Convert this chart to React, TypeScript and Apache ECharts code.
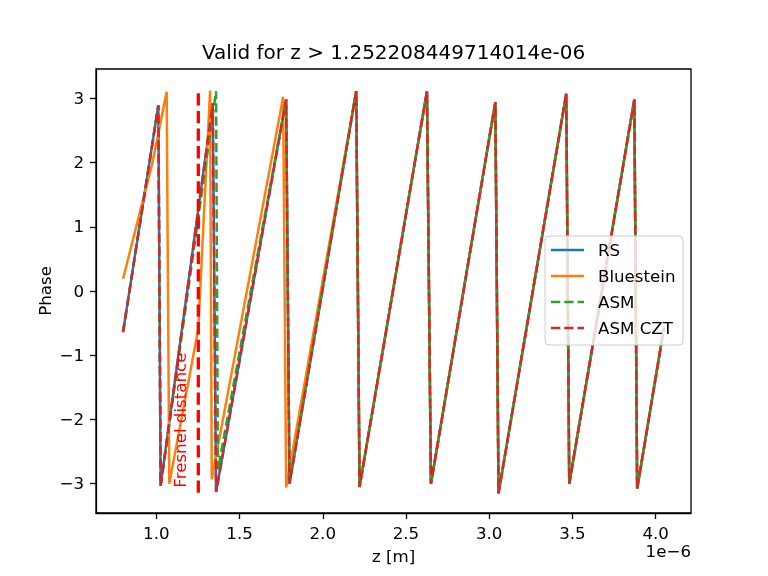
import React, { useEffect, useRef } from "react";
import * as echarts from "echarts";

// z values in units of 1e-6 m, phase in rad
const rsZ = [0.8, 1.012, 1.026, 1.339, 1.359, 1.78, 1.8, 2.201, 2.221, 2.626, 2.65, 3.037, 3.056, 3.463, 3.481, 3.872, 3.889, 4.05];
const rsPhase = [-0.64, 2.89, -3.03, 2.92, -3.13, 2.98, -3.0, 3.11, -3.05, 3.11, -3.0, 2.94, -3.15, 3.07, -3.0, 2.98, -3.08, -0.57];

const blueZ = [0.8, 0.976, 1.062, 1.078, 1.252, 1.323, 1.333, 1.762, 1.78, 2.201, 2.221, 2.626, 2.65, 3.037, 3.056, 3.463, 3.481, 3.872, 3.889, 4.05];
const bluePhase = [0.19, 1.99, 3.1, -3.0, -0.59, 3.12, -2.93, 3.02, -3.06, 3.11, -3.05, 3.11, -3.0, 2.94, -3.15, 3.07, -3.0, 2.98, -3.08, -0.57];

const asmZ = [0.8, 1.012, 1.026, 1.359, 1.37, 1.78, 1.8, 2.201, 2.221, 2.626, 2.65, 3.037, 3.056, 3.463, 3.481, 3.872, 3.889, 4.05];
const asmPhase = [-0.64, 2.89, -3.03, 3.11, -2.78, 2.98, -3.0, 3.11, -3.05, 3.11, -3.0, 2.94, -3.15, 3.07, -3.0, 2.98, -3.08, -0.57];

const cztZ = rsZ;
const cztPhase = rsPhase;

const fresnelZ = 1.252208449714014;
const fresnelPhase = [-Math.PI, Math.PI];
const fresnelLabelPos = [1.145, -2.01];

const xTicks = [1.0, 1.5, 2.0, 2.5, 3.0, 3.5, 4.0];
const yTicks = [-3, -2, -1, 0, 1, 2, 3];
const seriesNames = ["RS", "Bluestein", "ASM", "ASM CZT"];
const colors = ["#1f77b4", "#ff7f0e", "#2ca02c", "#d62728"];
const dashed = [false, false, true, true];

const zip = (xs: number[], ys: number[]) => xs.map((x, i) => [x, ys[i]]);

export default function App() {
  const ref = useRef<HTMLDivElement>(null);
  useEffect(() => {
    if (!ref.current) return;
    const chart = echarts.init(ref.current, undefined, { renderer: "svg" });
    const font = "DejaVu Sans";
    const fs = 16.67;
    const dash = [9.25, 4];
    const lineSeries = (name: string, data: number[][], color: string, type: any) => ({
      name,
      type: "line",
      data,
      showSymbol: false,
      symbol: "none",
      lineStyle: { color, width: 2.5, type, cap: "butt" },
      itemStyle: { color },
      emphasis: { disabled: true },
    });

    // legend drawn as graphic elements (matplotlib style)
    const legX = 545, legY = 236, legW = 138, legH = 109;
    const rowY0 = 250, rowGap = 26;
    const legendEls: any[] = [
      {
        type: "rect",
        shape: { x: legX, y: legY, width: legW, height: legH, r: 4 },
        style: { fill: "rgba(255,255,255,0.8)", stroke: "#cccccc", lineWidth: 1 },
        z: 100,
      },
    ];
    seriesNames.forEach((n, i) => {
      const y = rowY0 + i * rowGap;
      legendEls.push({
        type: "line",
        shape: { x1: 551, y1: y, x2: 584, y2: y },
        style: { stroke: colors[i], lineWidth: 2.5, lineDash: dashed[i] ? dash : null },
        z: 101,
      });
      legendEls.push({
        type: "text",
        x: 598,
        y,
        style: { text: n, fontSize: fs, fontFamily: font, fill: "#000", align: "left", verticalAlign: "middle" },
        z: 101,
      });
    });

    chart.setOption({
      animation: false,
      textStyle: { fontFamily: font },
      grid: {
        left: 96,
        right: 77,
        top: 69,
        bottom: 63,
        show: true,
        borderColor: "#000",
        borderWidth: 1.3,
        backgroundColor: "transparent",
      },
      xAxis: {
        type: "value",
        min: 0.6375,
        max: 4.2125,
        splitLine: { show: false },
        axisLine: { show: true, onZero: false, lineStyle: { color: "#000", width: 1.3 } },
        axisTick: { show: true, length: 6, customValues: xTicks, lineStyle: { color: "#000", width: 1.3 } },
        axisLabel: {
          customValues: xTicks,
          margin: 12,
          color: "#000",
          fontSize: fs,
          fontFamily: font,
          formatter: (v: number) => v.toFixed(1),
        },
      },
      yAxis: {
        type: "value",
        min: -3.4558,
        max: 3.4558,
        splitLine: { show: false },
        axisLine: { show: true, onZero: false, lineStyle: { color: "#000", width: 1.3 } },
        axisTick: { show: true, length: 6, customValues: yTicks, lineStyle: { color: "#000", width: 1.3 } },
        axisLabel: {
          customValues: yTicks,
          margin: 12,
          color: "#000",
          fontSize: fs,
          fontFamily: font,
          formatter: (v: number) => (v < 0 ? "\u2212" + Math.abs(v) : String(v)),
        },
      },
      series: [
        lineSeries(seriesNames[0], zip(rsZ, rsPhase), colors[0], "solid"),
        lineSeries(seriesNames[1], zip(blueZ, bluePhase), colors[1], "solid"),
        lineSeries(seriesNames[2], zip(asmZ, asmPhase), colors[2], dash),
        lineSeries(seriesNames[3], zip(cztZ, cztPhase), colors[3], dash),
        {
          name: "Fresnel",
          type: "line",
          data: fresnelPhase.map((p) => [fresnelZ, p]),
          showSymbol: false,
          symbol: "none",
          lineStyle: { color: "#ff0000", width: 3.3, type: [12.3, 5.3], cap: "butt" },
          emphasis: { disabled: true },
        },
      ],
    });

    const lp = chart.convertToPixel({ gridIndex: 0 }, fresnelLabelPos) as number[];

    chart.setOption({
      graphic: [
        {
          type: "text",
          x: 393.6,
          y: 52,
          style: {
            text: "Valid for z > 1.252208449714014e-06",
            fontSize: 20,
            fontFamily: font,
            fill: "#000",
            align: "center",
            verticalAlign: "middle",
          },
        },
        {
          type: "text",
          x: 393.6,
          y: 556,
          style: { text: "z [m]", fontSize: fs, fontFamily: font, fill: "#000", align: "center", verticalAlign: "middle" },
        },
        {
          type: "text",
          x: 691,
          y: 551,
          style: { text: "1e\u22126", fontSize: fs, fontFamily: font, fill: "#000", align: "right", verticalAlign: "middle" },
        },
        {
          type: "text",
          x: 45,
          y: 291,
          rotation: Math.PI / 2,
          style: { text: "Phase", fontSize: fs, fontFamily: font, fill: "#000", align: "center", verticalAlign: "middle" },
        },
        {
          type: "text",
          x: lp[0],
          y: lp[1],
          rotation: Math.PI / 2,
          style: {
            text: "Fresnel distance",
            fontSize: fs,
            fontFamily: font,
            fill: "#ff0000",
            align: "center",
            verticalAlign: "middle",
          },
          z: 50,
        },
        ...legendEls,
      ],
    });
    return () => chart.dispose();
  }, []);
  return <div ref={ref} style={{ position: "fixed", left: 0, top: 0, width: 768, height: 576 }} />;
}
